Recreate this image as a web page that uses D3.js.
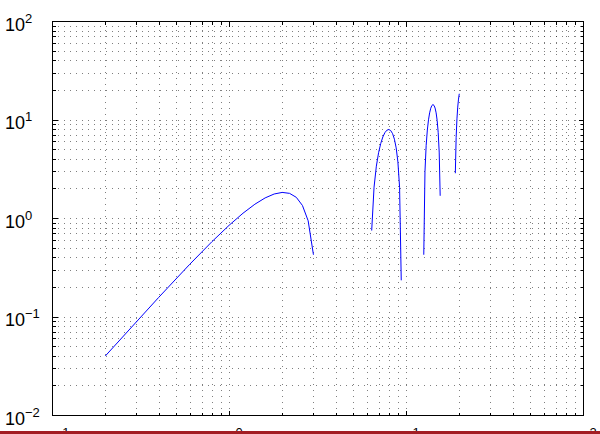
<!DOCTYPE html>
<html>
<head>
<meta charset="utf-8">
<script src="https://cdn.jsdelivr.net/npm/d3@7"></script>
<style>
  html, body { margin: 0; padding: 0; background: #fff; }
  svg { display: block; font-family: "Liberation Sans", Arial, sans-serif; }
</style>
</head>
<body>
<svg id="chart" width="600" height="434"></svg>
<script>
// Curve samples, split where y <= 0 (dropped on a log axis)
let x1 = [0.2, 0.4, 0.6, 0.8, 1.0, 1.2, 1.4, 1.6, 1.8, 2.0, 2.2, 2.4, 2.6, 2.8, 3.0];
let y1 = [0.0397, 0.1558, 0.3388, 0.5739, 0.8415, 1.1184, 1.3796, 1.5993, 1.7529, 1.8186, 1.7787, 1.6211, 1.3403, 0.9380, 0.4234];

let x2 = [6.4, 6.6, 6.8, 7.0, 7.2, 7.4, 7.6, 7.8, 8.0, 8.2, 8.4, 8.6, 8.8, 9.0, 9.2, 9.4];
let y2 = [0.7459, 2.0562, 3.3600, 4.5989, 5.7144, 6.6504, 7.3562, 7.7886, 7.9149, 7.7140, 7.1786, 6.3158, 5.1472, 3.7091, 2.0506, 0.2330];

let x3 = [12.6, 12.8, 13.0, 13.2, 13.4, 13.6, 13.8, 14.0, 14.2, 14.4, 14.6, 14.8, 15.0, 15.2, 15.4, 15.6];
let y3 = [0.4236, 2.9633, 5.4622, 7.8153, 9.9183, 11.6814, 13.0209, 13.8685, 14.1719, 13.9055, 13.0669, 11.6782, 9.7544, 7.4050, 4.6722, 1.6809];

let x4 = [19.0, 19.2, 19.4, 19.6, 19.8, 20.0];
let y4 = [2.8475, 6.5916, 10.1472, 13.3664, 16.1107, 18.2589];

// tick labels are 10^exponent
let xTickExps = [-1, 0, 1, 2];
let yTickExps = [-2, -1, 0, 1, 2];

let segments = [[x1, y1], [x2, y2], [x3, y3], [x4, y4]].map(function(s) {
  return s[0].map(function(v, i) { return [v, s[1][i]]; });
});

let svg = d3.select("#chart");

let plotLeft = 52, plotRight = 583, plotTop = 21, plotBottom = 415;

let x = d3.scaleLog().domain([0.1, 100]).range([plotLeft, plotRight]);
let y = d3.scaleLog().domain([0.01, 100]).range([plotBottom, plotTop]);

// every minor + major position of a log axis (1..9 x 10^k)
function logTicks(scale) {
  let d = scale.domain();
  let lo = Math.round(Math.log10(d[0])), hi = Math.round(Math.log10(d[1]));
  let out = [];
  for (let k = lo; k < hi; k++) {
    for (let m = 1; m < 10; m++) out.push(m * Math.pow(10, k));
  }
  out.push(Math.pow(10, hi));
  return out;
}
function isMajor(v) {
  let l = Math.log10(v);
  return Math.abs(l - Math.round(l)) < 1e-9;
}

let xt = logTicks(x), yt = logTicks(y);

// dotted grid
let grid = svg.append("g")
    .attr("stroke", "#000")
    .attr("stroke-opacity", 0.5)
    .attr("stroke-width", 1)
    .attr("stroke-dasharray", "1,5")
    .attr("shape-rendering", "crispEdges");

grid.selectAll("line.v")
    .data(xt.filter(function(d) { return d > 0.1 && d < 100; }))
    .enter().append("line")
    .attr("class", "v")
    .attr("x1", function(d) { return Math.round(x(d)) + 0.5; })
    .attr("x2", function(d) { return Math.round(x(d)) + 0.5; })
    .attr("y1", plotBottom)
    .attr("y2", plotTop);

grid.selectAll("line.h")
    .data(yt.filter(function(d) { return d > 0.01 && d < 100; }))
    .enter().append("line")
    .attr("class", "h")
    .attr("y1", function(d) { return Math.round(y(d)) + 0.5; })
    .attr("y2", function(d) { return Math.round(y(d)) + 0.5; })
    .attr("x1", plotLeft)
    .attr("x2", plotRight);

// curve
let line = d3.line()
    .x(function(d) { return x(d[0]); })
    .y(function(d) { return y(d[1]); });

svg.append("g")
    .selectAll("path")
    .data(segments)
    .enter().append("path")
    .attr("d", line)
    .attr("fill", "none")
    .attr("stroke", "#0000ff")
    .attr("stroke-width", 1);

// axes box with inward ticks on all four sides
let axes = svg.append("g")
    .attr("stroke", "#000")
    .attr("stroke-width", 1)
    .attr("shape-rendering", "crispEdges");

axes.append("rect")
    .attr("x", plotLeft + 0.5)
    .attr("y", plotTop + 0.5)
    .attr("width", plotRight - plotLeft)
    .attr("height", plotBottom - plotTop)
    .attr("fill", "none");

function tickLen(d) { return isMajor(d) ? 5 : 3; }

[plotBottom, plotTop].forEach(function(edge) {
  let dir = edge === plotBottom ? -1 : 1;
  axes.append("g").selectAll("line")
      .data(xt)
      .enter().append("line")
      .attr("x1", function(d) { return Math.round(x(d)) + 0.5; })
      .attr("x2", function(d) { return Math.round(x(d)) + 0.5; })
      .attr("y1", edge + 0.5)
      .attr("y2", function(d) { return edge + 0.5 + dir * tickLen(d); });
});

[plotLeft, plotRight].forEach(function(edge) {
  let dir = edge === plotLeft ? 1 : -1;
  axes.append("g").selectAll("line")
      .data(yt)
      .enter().append("line")
      .attr("y1", function(d) { return Math.round(y(d)) + 0.5; })
      .attr("y2", function(d) { return Math.round(y(d)) + 0.5; })
      .attr("x1", edge + 0.5)
      .attr("x2", function(d) { return edge + 0.5 + dir * tickLen(d); });
});

function expText(e) { return e < 0 ? "\u2212" + (-e) : String(e); }

// y labels, left aligned
let yLab = svg.append("g")
    .selectAll("text")
    .data(yTickExps)
    .enter().append("text")
    .attr("x", 5)
    .attr("y", function(d) { return y(Math.pow(10, d)) + 9.5; })
    .attr("fill", "#000")
    .style("font-size", "18px");
yLab.append("tspan").text("10");
yLab.append("tspan")
    .attr("dy", -8)
    .style("font-size", "13px")
    .text(function(d) { return expText(d); });

// x labels, centred; only the exponents peek out above the bottom strip
let xLab = svg.append("g")
    .selectAll("text")
    .data(xTickExps)
    .enter().append("text")
    .attr("x", function(d) { return x(Math.pow(10, d)); })
    .attr("y", 445)
    .attr("text-anchor", "middle")
    .attr("fill", "#000")
    .style("font-size", "18px");
xLab.append("tspan").text("10");
xLab.append("tspan")
    .attr("dy", -8)
    .style("font-size", "13px")
    .text(function(d) { return expText(d); });

// red strip along the bottom edge
svg.append("rect")
    .attr("x", 0)
    .attr("y", 431)
    .attr("width", 600)
    .attr("height", 3)
    .attr("fill", "#a31d24");
</script>
</body>
</html>
